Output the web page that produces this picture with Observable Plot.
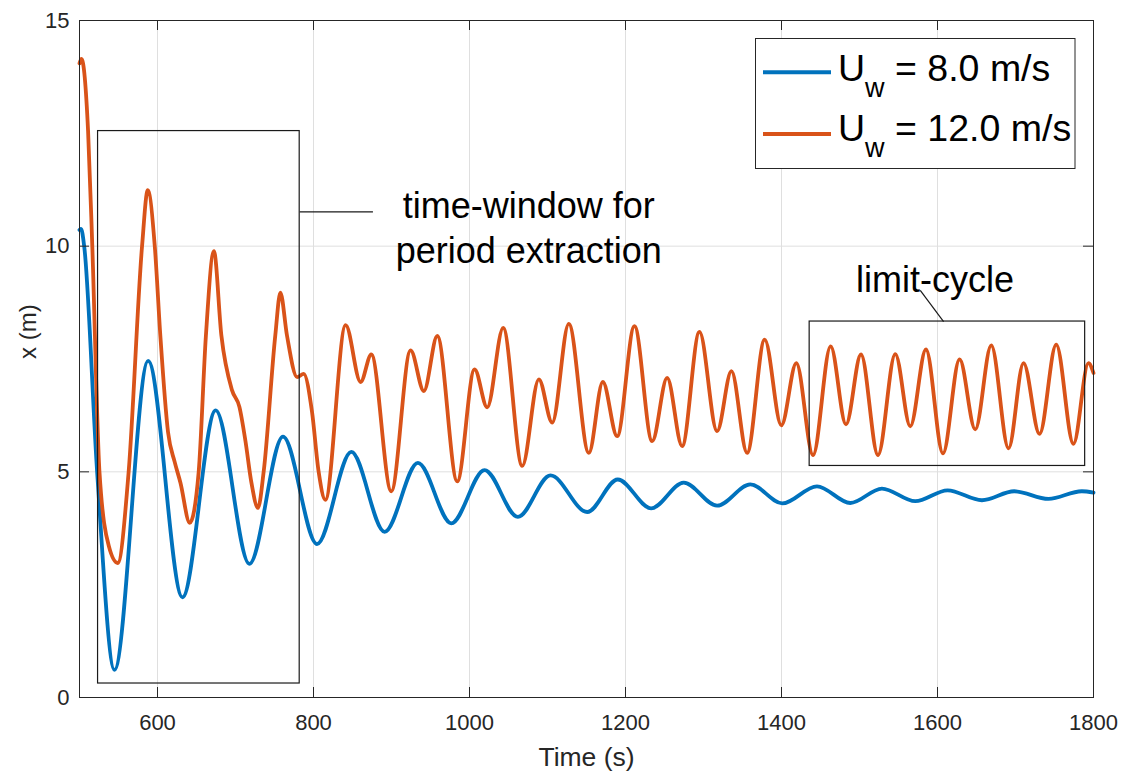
<!DOCTYPE html>
<html><head><meta charset="utf-8">
<script src="https://cdn.jsdelivr.net/npm/d3@7"></script>
<script src="https://cdn.jsdelivr.net/npm/@observablehq/plot@0.6"></script>
<style>
html,body{margin:0;padding:0;background:#fff;}
#chart{width:1129px;height:776px;overflow:hidden;}
</style></head><body><div id="chart"></div>
<script>
// ---- data ----
const xTicks = [600, 800, 1000, 1200, 1400, 1600, 1800];
const yTicks = [0, 5, 10, 15];
const seriesColors = ["#0072BD", "#D95319"];
const legendMain = ["U", "U"];
const legendSub = ["w", "w"];
const legendRest = [" = 8.0 m/s", " = 12.0 m/s"];

const blueT = [500, 502, 506, 522.6, 544.8, 588, 632, 674.6, 717.8, 760.9, 804.5, 848.5, 891.2, 933.9, 976.7, 1019.3, 1062, 1103.8, 1150.9, 1190, 1232.9, 1274.6, 1317.4, 1360, 1401, 1445.5, 1488.2, 1528.8, 1571.5, 1612.9, 1657, 1698.4, 1742.3, 1785, 1800];
const blueX = [10.36, 10.38, 10.0, 5.0, 0.61, 7.46, 2.22, 6.36, 2.96, 5.78, 3.40, 5.44, 3.67, 5.20, 3.86, 5.04, 4.00, 4.92, 4.11, 4.83, 4.19, 4.76, 4.25, 4.72, 4.30, 4.68, 4.31, 4.63, 4.35, 4.59, 4.37, 4.57, 4.40, 4.57, 4.54];

const orangeT = [500, 502.5, 511, 516.4, 525.6, 537.5, 549, 563, 580.2, 587.5, 596.5, 603.7, 613.5, 622, 629.4, 641.4, 652.8, 662, 672.3, 681.9, 695.5, 705, 712.7, 720.4, 728.8, 736.1, 751, 757.5, 766, 779, 787.4, 798, 806.6, 815.2, 841.2, 860.4, 874.1, 899.7, 924.5, 941.5, 958.7, 984.3, 1006.5, 1022.7, 1043.2, 1067.6, 1088.9, 1106, 1127.3, 1153, 1170.9, 1189.3, 1211.5, 1234.2, 1253.4, 1272.6, 1294.8, 1317.4, 1335.8, 1355.9, 1378.5, 1399.8, 1419, 1440.4, 1463, 1482.7, 1501.9, 1523.7, 1545.9, 1565.1, 1585.2, 1607, 1628.3, 1648.4, 1668.9, 1691.1, 1710.3, 1730.8, 1752.2, 1774.3, 1793.5, 1800];
const orangeX = [14.05, 14.15, 12.55, 10.0, 5.0, 3.36, 2.98, 5.0, 10.0, 11.24, 10.0, 8.0, 5.88, 5.22, 4.76, 3.87, 5.0, 8.0, 9.89, 8.02, 6.81, 6.44, 5.69, 4.76, 4.20, 5.0, 8.02, 8.97, 8.02, 7.10, 7.17, 6.34, 5.0, 4.38, 8.25, 6.99, 7.60, 4.57, 7.69, 6.79, 8.01, 4.79, 7.27, 6.43, 8.19, 5.13, 7.05, 6.09, 8.28, 5.42, 6.99, 5.79, 8.23, 5.68, 7.08, 5.57, 8.10, 5.90, 7.23, 5.42, 7.93, 6.03, 7.41, 5.37, 7.78, 6.05, 7.60, 5.37, 7.61, 6.01, 7.71, 5.41, 7.49, 5.94, 7.80, 5.52, 7.41, 5.84, 7.82, 5.62, 7.41, 7.19];

// annotation boxes (time, x extents)
const boxT1 = [523.8, 1436.1];
const boxT2 = [782.3, 1789.3];
const boxX1 = [0.31, 5.13];
const boxX2 = [12.55, 8.33];
// connector lines
const linkT1 = [782.3, 1607.8];
const linkX1 = [10.76, 8.33];
const linkT2 = [876.2, 1577.9];
const linkX2 = [10.76, 9.02];
// annotation labels
const noteText = ["time-window for", "period extraction", "limit-cycle"];
const noteT = [1076, 1076, 1596.7];
const noteX = [10.87, 9.88, 9.24];

// ---- build ----
const blue = blueT.map((t, i) => ({t, x: blueX[i]}));
const orange = orangeT.map((t, i) => ({t, x: orangeX[i]}));
const boxes = boxT1.map((t, i) => ({t1: t, t2: boxT2[i], x1: boxX1[i], x2: boxX2[i]}));
const links = linkT1.map((t, i) => ({t1: t, x1: linkX1[i], t2: linkT2[i], x2: linkX2[i]}));
const notes = noteText.map((s, i) => ({s, t: noteT[i], x: noteX[i]}));

const W = 1129, H = 776;
const mL = 79, mR = 36, mT = 20, mB = 79;
const pxPerT = (W - mL - mR) / 1300;
const pxPerX = (H - mT - mB) / 15;
const tickT = 10 / pxPerT, tickX = 10 / pxPerX;
const axisCol = "#262626";
const gridCol = "#dfdfdf";
const FONT = "'Liberation Sans', Arial, Helvetica, sans-serif";

const plot = Plot.plot({
  width: W, height: H,
  marginLeft: mL, marginRight: mR, marginTop: mT, marginBottom: mB,
  style: {fontFamily: FONT, fontSize: "21px", color: axisCol, background: "#fff"},
  x: {domain: [500, 1800], axis: null},
  y: {domain: [0, 15], axis: null},
  marks: [
    Plot.ruleX(xTicks.filter(d => d < 1800), {stroke: gridCol, strokeWidth: 1}),
    Plot.ruleY(yTicks.filter(d => d > 0 && d < 15), {stroke: gridCol, strokeWidth: 1}),
    Plot.line(blue, {x: "t", y: "x", stroke: seriesColors[0], strokeWidth: 3.8, curve: "monotone-x"}),
    Plot.line(orange, {x: "t", y: "x", stroke: seriesColors[1], strokeWidth: 3.8, curve: "monotone-x"}),
    Plot.rect(boxes, {x1: "t1", x2: "t2", y1: "x1", y2: "x2", fill: "none", stroke: "#1a1a1a", strokeWidth: 1.2}),
    Plot.link(links, {x1: "t1", y1: "x1", x2: "t2", y2: "x2", stroke: "#1a1a1a", strokeWidth: 1.2}),
    Plot.text(notes, {x: "t", y: "x", text: "s", fontSize: 36, fill: "#000", lineAnchor: "middle", textAnchor: "middle"}),
    // inward ticks
    Plot.ruleX(xTicks, {y1: 0, y2: tickX, stroke: axisCol}),
    Plot.ruleX(xTicks, {y1: 15, y2: 15 - tickX, stroke: axisCol}),
    Plot.ruleY(yTicks, {x1: 500, x2: 500 + tickT, stroke: axisCol}),
    Plot.ruleY(yTicks, {x1: 1800, x2: 1800 - tickT, stroke: axisCol}),
    Plot.frame({stroke: axisCol, strokeWidth: 1}),
    Plot.axisX({ticks: xTicks, tickFormat: d3.format("d"), tickSize: 0, tickPadding: 17, fontSize: 22, label: null, fill: axisCol}),
    Plot.axisY({ticks: yTicks, tickFormat: d3.format("d"), tickSize: 0, tickPadding: 10, fontSize: 22, label: null, fill: axisCol}),
    Plot.text(["Time (s)"], {frameAnchor: "bottom", dy: 60, text: d => d, fontSize: 26.5, fill: axisCol, lineAnchor: "middle"}),
    Plot.text(["x (m)"], {frameAnchor: "left", dx: -51, text: d => d, fontSize: 24, fill: axisCol, rotate: -90, lineAnchor: "middle"})
  ]
});
document.getElementById("chart").appendChild(plot);

// ---- legend ----
const svg = d3.select(plot);
const lg = svg.append("g").attr("font-family", FONT).attr("text-anchor", "start");
lg.append("rect").attr("x", 755.5).attr("y", 38.5).attr("width", 319.5).attr("height", 130)
  .attr("fill", "#fff").attr("stroke", axisCol).attr("stroke-width", 1);
const rowLine = [72.3, 134];
const rowBase = [80.5, 141];
seriesColors.forEach((c, i) => {
  lg.append("line").attr("x1", 763).attr("x2", 831).attr("y1", rowLine[i]).attr("y2", rowLine[i])
    .attr("stroke", c).attr("stroke-width", 4);
  const tx = lg.append("text").attr("x", 838).attr("y", rowBase[i]).attr("font-size", 37.5)
    .attr("fill", "#000").attr("text-anchor", "start").style("white-space", "pre");
  tx.append("tspan").text(legendMain[i]);
  tx.append("tspan").attr("dy", 16).attr("font-size", 27).text(legendSub[i]);
  tx.append("tspan").attr("dy", -16).attr("font-size", 37.5).text(legendRest[i]);
});
</script></body></html>
